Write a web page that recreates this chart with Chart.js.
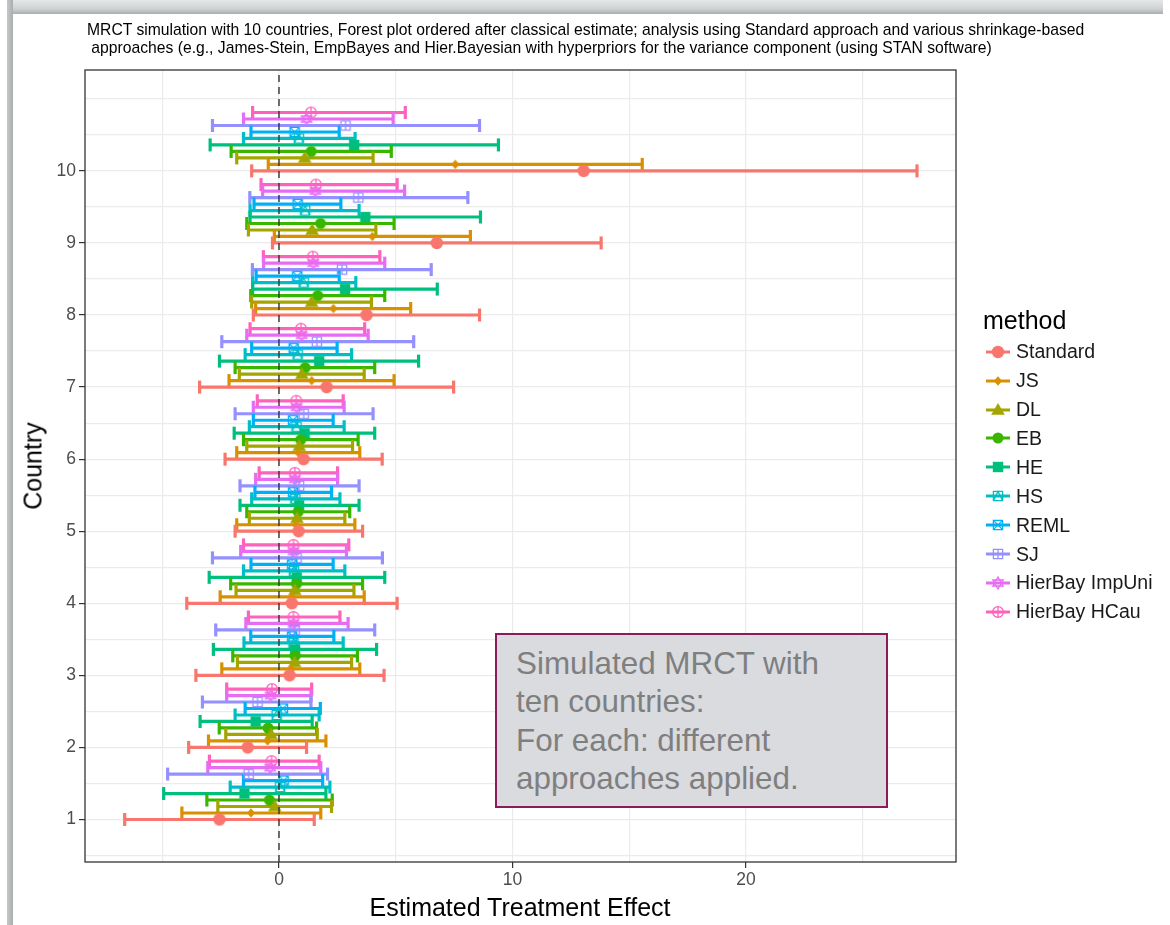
<!DOCTYPE html>
<html>
<head>
<meta charset="utf-8">
<script src="https://cdn.jsdelivr.net/npm/chart.js@4.4.1/dist/chart.umd.min.js"></script>
<style>
  html, body { margin: 0; padding: 0; background: #fff; width: 1170px; height: 925px; overflow: hidden; }
  body { font-family: "Liberation Sans", Arial, sans-serif; }
  #wrap { position: relative; width: 1170px; height: 925px; }
  #chart { position: absolute; left: 0; top: 0; }
  .frameTop { position: absolute; left: 7px; top: 0; width: 1156px; height: 14px;
              background: linear-gradient(#e6e8e8, #cdd1d1 65%, #a8adad); }
  .frameLeft { position: absolute; left: 7px; top: 0; width: 6px; height: 925px;
               background: linear-gradient(90deg, #c4c8c8, #a9aeae); }
  .title { position: absolute; left: 87px; top: 21px; color: #000; white-space: pre; line-height: 18px; }
  .axisTitle { position: absolute; font-size: 25px; color: #000; white-space: nowrap; }
  #ytitle { left: 33px; top: 466px; transform: translate(-50%, -50%) rotate(-90deg); }
  #xtitle { left: 520px; top: 907px; transform: translate(-50%, -50%); }
  #legend { position: absolute; left: 983px; top: 305px; }
  .legTitle { position: absolute; left: 0; top: 0; font-size: 25px; line-height: 30px; color: #000; }
  .legItem { position: absolute; left: 2px; height: 20px; display: flex; align-items: center; white-space: nowrap; }
  .legItem span { font-size: 19.5px; color: #1a1a1a; margin-left: 5px; }
  #note { position: absolute; left: 495px; top: 633px; width: 393px; height: 175px;
          background: #d9dbdf; border: 2px solid #8b1c5c; color: #7f7f7f;
          font-size: 31.4px; line-height: 38.3px; padding: 10px 0 0 19px; box-sizing: border-box; white-space: nowrap; }
</style>
</head>
<body>
<div id="wrap">
  <canvas id="chart" width="1170" height="925"></canvas>
  <div class="frameTop"></div>
  <div class="frameLeft"></div>
  <div class="title" id="title"></div>
  <div class="axisTitle" id="ytitle">Country</div>
  <div class="axisTitle" id="xtitle">Estimated Treatment Effect</div>
  <div id="legend"></div>
  <div id="note"></div>
</div>
<script>
// ---- countries and axis ticks ----
const countries = [1, 2, 3, 4, 5, 6, 7, 8, 9, 10];
const yLabelValues = [1, 2, 3, 4, 5, 6, 7, 8, 9, 10];
const yGridValues = [0.5, 1, 1.5, 2, 2.5, 3, 3.5, 4, 4.5, 5, 5.5, 6, 6.5, 7, 7.5, 8, 8.5, 9, 9.5, 10, 10.5, 11];
const xLabelValues = [0, 10, 20];
const xGridValues = [-5, 0, 5, 10, 15, 20, 25];

// ---- methods ----
const methodNames = ["Standard", "JS", "DL", "EB", "HE", "HS", "REML", "SJ", "HierBay ImpUni", "HierBay HCau"];
const methodColors = ["#F8766D", "#D89000", "#A3A500", "#39B600", "#00BF7D", "#00BFC4", "#00B0F6", "#9590FF", "#E76BF3", "#FF62BC"];
const methodShapes = ["circle", "diamond", "triangle", "dot", "square", "squareTriangle", "squareCross", "squarePlus", "star6", "circlePlus"];

// ---- estimates and interval limits per method (countries 1..10) ----
const standardEst  = [-2.55, -1.34, 0.45, 0.55, 0.84, 1.05, 2.04, 3.75, 6.76, 13.05];
const standardLow  = [-6.61, -3.87, -3.56, -3.95, -1.88, -2.31, -3.40, -1.10, -0.28, -1.17];
const standardHigh = [1.51, 1.18, 4.50, 5.06, 3.58, 4.42, 7.48, 8.59, 13.80, 27.33];

const jsEst  = [-1.20, -0.49, 0.52, 0.57, 0.72, 0.83, 1.40, 2.33, 4.00, 7.55];
const jsLow  = [-4.16, -3.02, -2.45, -2.52, -1.81, -1.81, -2.14, -1.00, -0.20, -0.46];
const jsHigh = [1.79, 2.01, 3.46, 3.65, 3.25, 3.46, 4.93, 5.64, 8.20, 15.56];

const dlEst  = [-0.18, -0.34, 0.67, 0.68, 0.77, 0.87, 0.98, 1.40, 1.42, 1.10];
const dlLow  = [-2.62, -2.28, -1.78, -1.84, -1.27, -1.38, -1.70, -1.17, -1.31, -1.81];
const dlHigh = [2.25, 1.64, 3.11, 3.21, 2.82, 3.15, 3.65, 3.96, 4.15, 4.03];

const ebEst  = [-0.41, -0.47, 0.69, 0.75, 0.82, 0.93, 1.12, 1.66, 1.78, 1.38];
const ebLow  = [-3.09, -2.56, -1.98, -2.07, -1.38, -1.52, -1.88, -1.21, -1.38, -2.05];
const ebHigh = [2.28, 1.61, 3.36, 3.58, 3.03, 3.39, 4.10, 4.53, 4.93, 4.81];

const heEst  = [-1.48, -1.00, 0.69, 0.76, 0.86, 1.10, 1.72, 2.83, 3.70, 3.22];
const heLow  = [-4.94, -3.38, -2.81, -2.99, -1.67, -1.92, -2.55, -1.13, -1.24, -2.95];
const heHigh = [2.01, 1.42, 4.18, 4.53, 3.43, 4.10, 5.98, 6.78, 8.63, 9.40];

const hsEst  = [0.05, -0.10, 0.62, 0.64, 0.70, 0.75, 0.80, 1.06, 1.12, 0.85];
const hsLow  = [-2.09, -1.88, -1.50, -1.52, -1.17, -1.27, -1.45, -1.13, -1.24, -1.52];
const hsHigh = [2.18, 1.72, 2.75, 2.82, 2.61, 2.79, 3.11, 3.29, 3.43, 3.26];

const remlEst  = [0.20, 0.17, 0.56, 0.56, 0.60, 0.60, 0.63, 0.78, 0.80, 0.67];
const remlLow  = [-1.52, -1.45, -1.21, -1.20, -1.03, -1.10, -1.17, -0.98, -1.07, -1.20];
const remlHigh = [1.87, 1.77, 2.35, 2.32, 2.25, 2.32, 2.49, 2.58, 2.65, 2.58];

const sjEst  = [-1.30, -0.92, 0.67, 0.75, 0.86, 1.06, 1.62, 2.70, 3.40, 2.85];
const sjLow  = [-4.77, -3.28, -2.71, -2.85, -1.67, -1.88, -2.45, -1.14, -1.25, -2.85];
const sjHigh = [2.08, 1.37, 4.10, 4.43, 3.43, 4.03, 5.77, 6.52, 8.09, 8.59];

const impUniEst  = [-0.38, -0.36, 0.62, 0.62, 0.68, 0.75, 0.97, 1.47, 1.56, 1.18];
const impUniLow  = [-3.05, -2.24, -1.42, -1.64, -1.00, -1.10, -1.38, -0.66, -0.70, -1.52];
const impUniHigh = [1.79, 1.37, 2.96, 2.89, 2.51, 2.79, 3.82, 4.53, 5.38, 4.89];

const hCauEst  = [-0.32, -0.30, 0.62, 0.62, 0.68, 0.74, 0.94, 1.45, 1.58, 1.37];
const hCauLow  = [-2.98, -2.24, -1.31, -1.52, -0.85, -0.93, -1.24, -0.67, -0.77, -1.13];
const hCauHigh = [1.72, 1.40, 2.61, 2.99, 2.51, 2.75, 3.67, 4.32, 5.06, 5.41];

const estimates = [standardEst, jsEst, dlEst, ebEst, heEst, hsEst, remlEst, sjEst, impUniEst, hCauEst];
const lows      = [standardLow, jsLow, dlLow, ebLow, heLow, hsLow, remlLow, sjLow, impUniLow, hCauLow];
const highs     = [standardHigh, jsHigh, dlHigh, ebHigh, heHigh, hsHigh, remlHigh, sjHigh, impUniHigh, hCauHigh];

// vertical dodge between methods within a country
const dodgeStep = 0.09;

// ---- title and note text ----
const titleLines = [
  "MRCT simulation with 10 countries, Forest plot ordered after classical estimate; analysis using Standard approach and various shrinkage-based",
  " approaches (e.g., James-Stein, EmpBayes and Hier.Bayesian with hyperpriors for the variance component (using STAN software)"
];
const noteLines = ["Simulated MRCT with", "ten countries:", "For each: different", "approaches applied."];

// ---- marker drawing ----
function drawShape(ctx, shape, color, cx, cy) {
  ctx.save();
  ctx.fillStyle = color;
  ctx.strokeStyle = color;
  ctx.lineWidth = 1.3;
  ctx.beginPath();
  switch (shape) {
    case "circle":
      ctx.arc(cx, cy, 6.2, 0, Math.PI * 2); ctx.fill(); break;
    case "dot":
      ctx.arc(cx, cy, 5.5, 0, Math.PI * 2); ctx.fill(); break;
    case "diamond":
      ctx.moveTo(cx, cy - 4.8); ctx.lineTo(cx + 4, cy); ctx.lineTo(cx, cy + 4.8); ctx.lineTo(cx - 4, cy);
      ctx.closePath(); ctx.fill(); break;
    case "triangle":
      ctx.moveTo(cx, cy - 7); ctx.lineTo(cx + 6.8, cy + 4.7); ctx.lineTo(cx - 6.8, cy + 4.7);
      ctx.closePath(); ctx.fill(); break;
    case "square":
      ctx.rect(cx - 5.2, cy - 5.2, 10.4, 10.4); ctx.fill(); break;
    case "squareTriangle":
      ctx.rect(cx - 4.6, cy - 4.6, 9.2, 9.2);
      ctx.moveTo(cx - 4.6, cy + 4.6); ctx.lineTo(cx, cy - 4.6); ctx.lineTo(cx + 4.6, cy + 4.6);
      ctx.stroke(); break;
    case "squareCross":
      ctx.rect(cx - 4.6, cy - 4.6, 9.2, 9.2);
      ctx.moveTo(cx - 4.6, cy - 4.6); ctx.lineTo(cx + 4.6, cy + 4.6);
      ctx.moveTo(cx + 4.6, cy - 4.6); ctx.lineTo(cx - 4.6, cy + 4.6);
      ctx.stroke(); break;
    case "squarePlus":
      ctx.rect(cx - 4.6, cy - 4.6, 9.2, 9.2);
      ctx.moveTo(cx, cy - 4.6); ctx.lineTo(cx, cy + 4.6);
      ctx.moveTo(cx - 4.6, cy); ctx.lineTo(cx + 4.6, cy);
      ctx.stroke(); break;
    case "star6":
      ctx.moveTo(cx, cy - 6); ctx.lineTo(cx + 5.2, cy + 3); ctx.lineTo(cx - 5.2, cy + 3); ctx.closePath();
      ctx.moveTo(cx, cy + 6); ctx.lineTo(cx + 5.2, cy - 3); ctx.lineTo(cx - 5.2, cy - 3); ctx.closePath();
      ctx.stroke(); break;
    case "circlePlus":
      ctx.arc(cx, cy, 5.4, 0, Math.PI * 2);
      ctx.moveTo(cx, cy - 5.4); ctx.lineTo(cx, cy + 5.4);
      ctx.moveTo(cx - 5.4, cy); ctx.lineTo(cx + 5.4, cy);
      ctx.stroke(); break;
  }
  ctx.restore();
}

function markerCanvas(shape, color) {
  const c = document.createElement("canvas");
  c.width = 16; c.height = 16;
  drawShape(c.getContext("2d"), shape, color, 8, 8);
  return c;
}

// ---- title, fitted to the panel width ----
(function () {
  const el = document.getElementById("title");
  const m = document.createElement("canvas").getContext("2d");
  m.font = '14px "Liberation Sans"';
  const w = m.measureText(titleLines[0]).width;
  const size = 14 * 998 / w;
  el.style.fontSize = size.toFixed(2) + "px";
  el.textContent = titleLines.join("\n");
})();

document.getElementById("note").innerHTML = noteLines.join("<br>");

// ---- legend ----
(function () {
  const leg = document.getElementById("legend");
  const t = document.createElement("div");
  t.className = "legTitle";
  t.textContent = "method";
  leg.appendChild(t);
  methodNames.forEach((name, i) => {
    const item = document.createElement("div");
    item.className = "legItem";
    item.style.top = (36.7 + i * 28.9) + "px";
    const g = document.createElement("canvas");
    g.width = 26; g.height = 18;
    const gc = g.getContext("2d");
    gc.strokeStyle = methodColors[i];
    gc.lineWidth = 3;
    gc.beginPath(); gc.moveTo(1, 9); gc.lineTo(25, 9); gc.stroke();
    drawShape(gc, methodShapes[i], methodColors[i], 13, 9);
    const s = document.createElement("span");
    s.textContent = name;
    item.appendChild(g); item.appendChild(s);
    leg.appendChild(item);
  });
})();

// ---- datasets ----
const datasets = [];

// dashed reference line at zero effect
datasets.push({
  type: "line",
  data: [{ x: 0, y: 0.41 }, { x: 0, y: 11.4 }],
  borderColor: "#333333",
  borderWidth: 1.4,
  borderDash: [7, 5],
  pointRadius: 0,
  showLine: true,
  order: 0
});

methodNames.forEach((name, i) => {
  const offset = i * dodgeStep;
  const segs = [];
  const pts = [];
  countries.forEach((c, k) => {
    segs.push({ x: lows[i][k], y: c + offset });
    segs.push({ x: highs[i][k], y: c + offset });
    segs.push({ x: highs[i][k], y: null });
    pts.push({ x: estimates[i][k], y: c + offset });
  });
  // interval bars with vertical end caps
  datasets.push({
    type: "line",
    label: name,
    data: segs,
    showLine: true,
    spanGaps: false,
    borderColor: methodColors[i],
    borderWidth: 3.2,
    pointStyle: "line",
    rotation: 90,
    pointRadius: 6.5,
    pointHoverRadius: 6.5,
    pointBorderWidth: 3.2,
    pointBorderColor: methodColors[i],
    order: 2
  });
  // point estimates
  datasets.push({
    type: "scatter",
    label: name + " estimate",
    data: pts,
    pointStyle: markerCanvas(methodShapes[i], methodColors[i]),
    pointRadius: 6,
    pointHoverRadius: 6,
    order: 1
  });
});

// ---- plugins ----
const panelBorder = {
  id: "panelBorder",
  afterDatasetsDraw(chart) {
    const { ctx, chartArea: a } = chart;
    ctx.save();
    ctx.strokeStyle = "#333333";
    ctx.lineWidth = 1.3;
    ctx.strokeRect(a.left, a.top, a.right - a.left, a.bottom - a.top);
    ctx.restore();
  }
};
const whiteBg = {
  id: "whiteBg",
  beforeDraw(chart) {
    const { ctx } = chart;
    ctx.save();
    ctx.fillStyle = "#ffffff";
    ctx.fillRect(0, 0, chart.width, chart.height);
    ctx.restore();
  }
};

const tickFont = { family: "Liberation Sans", size: 17.5 };

new Chart(document.getElementById("chart"), {
  type: "scatter",
  data: { datasets },
  plugins: [whiteBg, panelBorder],
  options: {
    responsive: false,
    animation: false,
    events: [],
    layout: { padding: { left: 0, top: 70, right: 214, bottom: 0 } },
    plugins: { legend: { display: false }, tooltip: { enabled: false } },
    scales: {
      x: {
        type: "linear",
        position: "bottom",
        min: -8.31,
        max: 29.0,
        afterBuildTicks: (s) => { s.ticks = xGridValues.map(v => ({ value: v })); },
        afterFit: (s) => { s.height = 63; },
        grid: {
          color: "#ebebeb",
          lineWidth: 1.2,
          tickLength: 6,
          tickWidth: 1.2,
          tickColor: (ctx) => (ctx.tick && xLabelValues.includes(ctx.tick.value)) ? "#333333" : "rgba(0,0,0,0)"
        },
        border: { display: false },
        ticks: {
          autoSkip: false,
          maxRotation: 0,
          padding: 2,
          color: "#4d4d4d",
          font: tickFont,
          callback: (v) => xLabelValues.includes(v) ? String(v) : ""
        }
      },
      y: {
        type: "linear",
        position: "left",
        min: 0.41,
        max: 11.4,
        afterBuildTicks: (s) => { s.ticks = yGridValues.map(v => ({ value: v })); },
        afterFit: (s) => { s.width = 85; },
        grid: {
          color: "#ebebeb",
          lineWidth: 1.2,
          tickLength: 6,
          tickWidth: 1.2,
          tickColor: (ctx) => (ctx.tick && yLabelValues.includes(ctx.tick.value)) ? "#333333" : "rgba(0,0,0,0)"
        },
        border: { display: false },
        ticks: {
          autoSkip: false,
          padding: 3,
          color: "#4d4d4d",
          font: tickFont,
          callback: (v) => yLabelValues.includes(v) ? String(v) : ""
        }
      }
    }
  }
});
</script>
</body>
</html>
